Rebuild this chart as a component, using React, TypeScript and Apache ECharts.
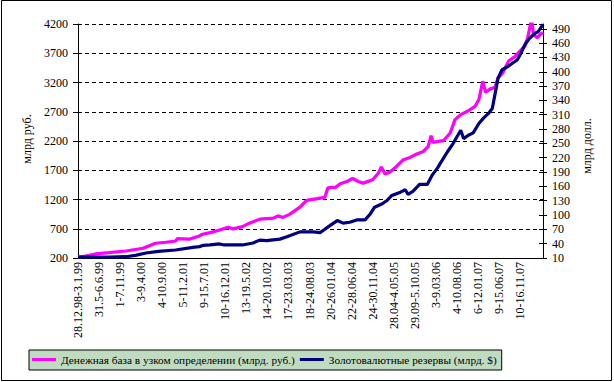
import React, { useEffect, useRef } from "react";
import * as echarts from "echarts";

// Tick labels shown on the category axis (every 22nd week)
const tickLabels = [
  "28.12.98-3.1.99", "31.5-6.6.99", "1-7.11.99", "3-9.4.00", "4-10.9.00",
  "5-11.2.01", "9-15.7.01", "10-16.12.01", "13-19.5.02", "14-20.10.02",
  "17-23.03.03", "18-24.08.03", "20-26.01.04", "22-28.06.04", "24-30.11.04",
  "28.04-4.05.05", "29.09-5.10.05", "3-9.03.06", "4-10.08.06", "6-12.01.07",
  "9-15.06.07", "10-16.11.07",
];
const WEEK_COUNT = 487;
const LABEL_STEP = 22;

// Monetary base (narrow definition), bn RUB — week index / value
const baseWeeks = [
  0, 8, 18, 32, 50, 68, 81, 92, 102, 104, 116, 127, 130, 138, 148, 157, 162, 172, 179, 190,
  204, 209, 214, 221, 232, 239, 250, 258, 261, 264, 269, 274, 281, 287, 293, 298, 308, 314, 317, 321,
  326, 333, 340, 347, 354, 361, 366, 369, 371, 378, 382, 389, 394, 400, 407, 415, 419, 423, 426, 431,
  436, 439, 444, 450, 457, 462, 467, 470, 474, 476, 480, 483, 486,
];
const baseValues = [
  217, 234, 269, 291, 320, 366, 452, 469, 491, 531, 521, 577, 606, 634, 680, 726, 697, 737, 795, 863,
  880, 920, 894, 946, 1069, 1186, 1215, 1237, 1395, 1408, 1405, 1468, 1508, 1559, 1508, 1480, 1537, 1652, 1755, 1635,
  1669, 1765, 1880, 1919, 1977, 2022, 2108, 2291, 2176, 2197, 2205, 2337, 2565, 2651, 2708, 2793, 2908, 3222, 3033, 3091,
  3119, 3280, 3366, 3565, 3650, 3736, 3822, 3966, 4280, 4022, 3966, 4022, 4051,
];

// International reserves, bn USD — week index / value
const reserveWeeks = [
  0, 33, 50, 60, 71, 84, 102, 120, 127, 131, 138, 148, 153, 172, 183, 190, 197, 211, 219, 232,
  246, 253, 258, 264, 271, 277, 284, 292, 300, 305, 310, 318, 323, 328, 337, 342, 345, 350, 357, 365,
  370, 376, 378, 386, 392, 400, 403, 408, 413, 419, 424, 429, 433, 436, 439, 443, 449, 454, 459, 462,
  467, 472, 478, 481, 486,
];
const reserveValues = [
  11.7, 12.1, 12.7, 15.5, 20.5, 23.9, 26.8, 32.3, 33.8, 36.5, 37.3, 39.4, 37.3, 37.3, 41.5, 47.4, 46.4, 49.5, 54.8, 64.7,
  64.7, 63.2, 70.1, 78.9, 88.4, 83.1, 84.8, 89.9, 89.9, 101, 116.4, 123.5, 130.4, 141, 147.9, 152.9, 143.1, 149.4, 164.1, 164.1,
  183, 199.2, 206.1, 232, 249.6, 277.6, 260.1, 267.1, 271.9, 291.7, 303.4, 312.7, 323.2, 354.7, 386.3, 403.7, 410.6, 417.8, 424.7, 435.2,
  456.3, 470.3, 480.8, 484.2, 499,
];

const seriesNames = [
  "Денежная база в узком определении (млрд. руб.)",
  "Золотовалютные резервы (млрд. $)",
];
const leftAxisName = "млрд руб.";
const rightAxisName = "млрд долл.";

const FONT = "Liberation Serif";

function weekLabel(i: number): string {
  if (i % LABEL_STEP === 0) return tickLabels[i / LABEL_STEP];
  const s = new Date(Date.UTC(1998, 11, 28 + i * 7));
  const e = new Date(Date.UTC(1998, 11, 28 + i * 7 + 6));
  return `${s.getUTCDate()}.${s.getUTCMonth() + 1}-${e.getUTCDate()}.${e.getUTCMonth() + 1}.${String(e.getUTCFullYear()).slice(2)}`;
}

export default function App() {
  const ref = useRef<HTMLDivElement>(null);
  useEffect(() => {
    if (!ref.current) return;
    const chart = echarts.init(ref.current, null, { renderer: "svg" });
    const categories = Array.from({ length: WEEK_COUNT }, (_, i) => weekLabel(i));
    const baseData = baseWeeks.map((w, i) => [w, baseValues[i]]);
    const reserveData = reserveWeeks.map((w, i) => [w, reserveValues[i]]);
    const black = "#000";
    const rightAxisCommon = {
      type: "value",
      position: "right",
      min: 10,
      max: 500,
      interval: 30,
      splitLine: { show: false },
    };
    chart.setOption({
      animation: false,
      backgroundColor: "#fff",
      textStyle: { fontFamily: FONT, color: black },
      grid: { left: 78, right: 71, top: 24, bottom: 124, containLabel: false },
      legend: {
        left: 29,
        top: 350,
        orient: "horizontal",
        backgroundColor: "#c0dcc0",
        borderColor: black,
        borderWidth: 1,
        borderRadius: 0,
        padding: [4, 5, 5, 3],
        itemWidth: 24,
        itemHeight: 3,
        itemGap: 5,
        icon: "rect",
        textStyle: { fontFamily: FONT, fontSize: 11.3, color: black },
        data: seriesNames,
      },
      xAxis: {
        type: "category",
        data: categories,
        boundaryGap: false,
        axisLine: { show: true, lineStyle: { color: black, width: 1 } },
        axisTick: { show: false },
        axisLabel: {
          interval: LABEL_STEP - 1,
          rotate: 90,
          margin: 4,
          fontFamily: FONT,
          fontSize: 12,
          color: black,
          formatter: (v: string, i: number) => (i % LABEL_STEP === 0 ? tickLabels[i / LABEL_STEP] : ""),
        },
        splitLine: { show: false },
      },
      yAxis: [
        {
          type: "value",
          position: "left",
          min: 200,
          max: 4200,
          interval: 500,
          axisLine: { show: true, lineStyle: { color: black, width: 1 } },
          axisTick: { show: true, length: 5, lineStyle: { color: black } },
          axisLabel: { margin: 10, fontFamily: FONT, fontSize: 12, color: black, formatter: (v: number) => String(v) },
          splitLine: { show: true, lineStyle: { color: black, width: 1, type: [4, 3] } },
        },
        {
          ...rightAxisCommon,
          axisLine: { show: true, lineStyle: { color: black, width: 1 } },
          axisTick: { show: true, length: 4, lineStyle: { color: black } },
          axisLabel: { margin: 9, fontFamily: FONT, fontSize: 12, color: black, formatter: (v: number) => String(v) },
        },
        {
          ...rightAxisCommon,
          axisLine: { show: false },
          axisTick: { show: true, inside: true, length: 4, lineStyle: { color: black } },
          axisLabel: { show: false },
        },
      ],
      series: [
        {
          name: seriesNames[0],
          type: "line",
          yAxisIndex: 0,
          data: baseData,
          showSymbol: false,
          color: "#ff00ff",
          lineStyle: { color: "#ff00ff", width: 3.2 },
        },
        {
          name: seriesNames[1],
          type: "line",
          yAxisIndex: 1,
          data: reserveData,
          showSymbol: false,
          color: "#000080",
          lineStyle: { color: "#000080", width: 3.2 },
        },
      ],
      graphic: [
        {
          type: "rect",
          shape: { x: 1.5, y: 0.5, width: 610, height: 380 },
          style: { fill: "none", stroke: black, lineWidth: 1 },
          silent: true,
        },
        {
          type: "text",
          x: 27,
          y: 139,
          rotation: Math.PI / 2,
          style: { text: leftAxisName, fontFamily: FONT, fontSize: 12, fill: black, align: "center", verticalAlign: "middle" },
        },
        {
          type: "text",
          x: 587,
          y: 146,
          rotation: Math.PI / 2,
          style: { text: rightAxisName, fontFamily: FONT, fontSize: 12, fill: black, align: "center", verticalAlign: "middle" },
        },
      ],
    });
    return () => chart.dispose();
  }, []);
  return <div ref={ref} style={{ position: "absolute", left: 0, top: 0, width: 614, height: 382 }} />;
}
